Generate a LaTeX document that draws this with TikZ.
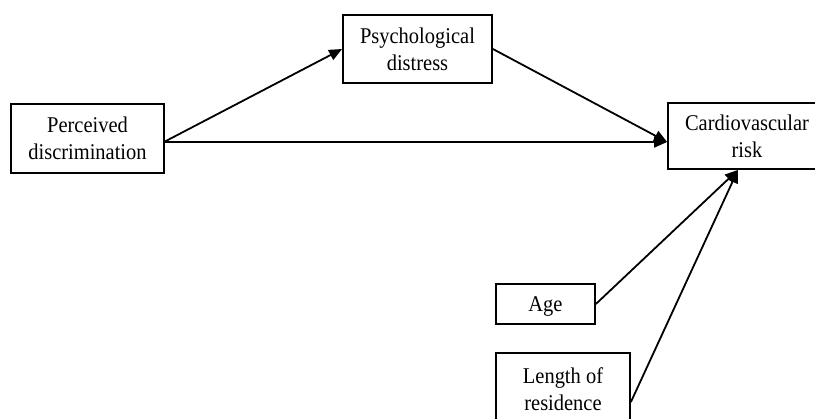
\documentclass[tikz,border=0pt]{standalone}
\usepackage{fontspec}
\usepackage{graphicx}
\setmainfont{Liberation Serif}
\usetikzlibrary{arrows.meta,calc}
\newcommand\boxtext[1]{\raisebox{-2.5pt}[\height][\depth]{\scalebox{0.91}[1]{\begin{tabular}{@{}c@{}}#1\end{tabular}}}}
\begin{document}
\begin{tikzpicture}[x=1pt,y=-1pt,
  box/.style={draw, line width=1.8pt, inner sep=0pt, align=center, font=\fontsize{22.5}{27}\selectfont},
  arr/.style={line width=1.8pt, -{Triangle[length=13pt,width=11pt]}}]
\useasboundingbox[fill=white] (0,0) rectangle (815,419);
\node[box, minimum width=153pt, minimum height=69pt] (pd) at (87.5,138.5) {\boxtext{Perceived\\discrimination}};
\node[box, minimum width=149pt, minimum height=68pt] (pdist) at (417.5,49) {\boxtext{Psychological\\distress}};
\node[box, minimum width=158pt, minimum height=66pt] (cv) at (747,136) {\boxtext{Cardiovascular\\risk}};
\node[box, minimum width=99pt, minimum height=40pt] (age) at (545.5,304) {\boxtext{Age}};
\node[box, minimum width=134pt, minimum height=72pt] (len) at (563,389) {\boxtext{Length of\\residence}};
\coordinate (pdout) at (164,142);
\coordinate (cvin) at ($(cv.west)+(0,6)$);
\coordinate (cvbot) at ($(cv.south)+(-9,0)$);
\coordinate (lenout) at ($(len.east)+(0,13)$);
\draw[arr] (pdout) -- (pdist.west);
\draw[arr] (pdout) -- (cvin);
\draw[arr] (pdist.east) -- (cvin);
\draw[arr] (age.east) -- (cvbot);
\draw[arr] (lenout) -- (cvbot);
\end{tikzpicture}
\end{document}
